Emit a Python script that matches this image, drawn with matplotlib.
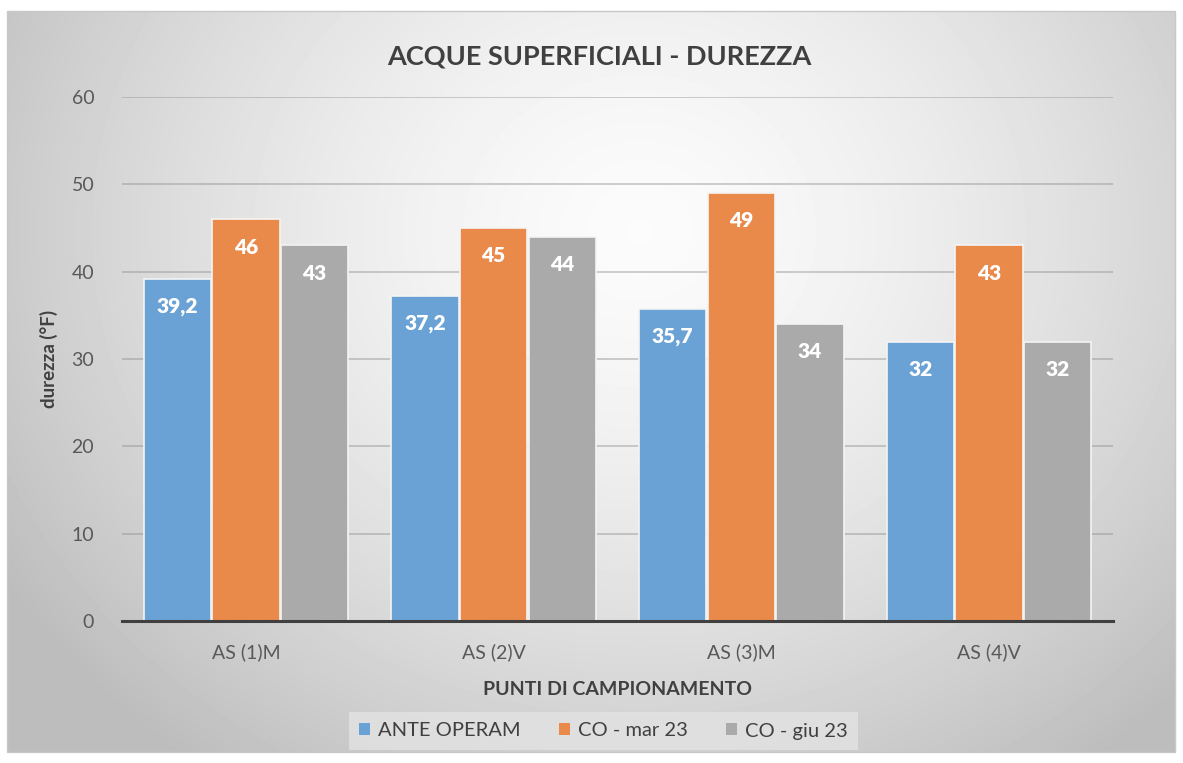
import numpy as np
import matplotlib
matplotlib.use("Agg")
import matplotlib.pyplot as plt
from matplotlib.patches import Patch, Rectangle

plt.rcParams['font.family'] = ['Lato', 'DejaVu Sans']

punti = ['AS (1)M', 'AS (2)V', 'AS (3)M', 'AS (4)V']
serie = ['ANTE OPERAM', 'CO - mar 23', 'CO - giu 23']
ante_operam = [39.2, 37.2, 35.7, 32]
co_mar23 = [46, 45, 49, 43]
co_giu23 = [43, 44, 34, 32]
colori = ['#6aa2d6', '#e9894a', '#aaaaaa']
yticks = [0, 10, 20, 30, 40, 50, 60]

W, H = 1183, 763
fig = plt.figure(figsize=(W / 100, H / 100), dpi=100)
fig.patch.set_facecolor('white')

# gradient background of the chart area
bg = fig.add_axes([0, 0, 1, 1], zorder=-5)
bg.set_xlim(0, W)
bg.set_ylim(H, 0)
bg.axis('off')
x0, x1, y0, y1 = 7, 1175, 11, 752
gx, gy = np.meshgrid(np.linspace(x0, x1, 300), np.linspace(y0, y1, 200))
r = np.sqrt(((gx - 640) / 700) ** 2 + ((gy - 230) / 620) ** 2)
shade = np.clip(0.985 - 0.22 * r ** 1.5, 0.74, 1)
bg.imshow(shade, cmap='gray', vmin=0, vmax=1, extent=[x0, x1, y1, y0],
          aspect='auto', interpolation='bilinear')
bg.add_patch(Rectangle((x0, y0), x1 - x0, y1 - y0, fill=False,
                       edgecolor='#c8c8c8', linewidth=1))

ax = fig.add_axes([122 / W, 1 - 621 / H, (1113 - 122) / W, (621 - 97) / H])
ax.patch.set_alpha(0)

x = np.arange(len(punti))
w = 0.272
valori = [ante_operam, co_mar23, co_giu23]
for i, (vals, col) in enumerate(zip(valori, colori)):
    pos = x + (i - 1) * (w + 0.005)
    bars = ax.bar(pos, vals, w, color=col, edgecolor='#f4f4f4', linewidth=1.2, zorder=3)
    for b, v in zip(bars, vals):
        txt = f'{v:g}'.replace('.', ',')
        ax.annotate(txt, (b.get_x() + b.get_width() / 2, v), xytext=(0, -20),
                    textcoords='offset points', ha='center', va='center',
                    color='white', fontsize=15, fontweight='heavy', zorder=4)

ax.set_xlim(-0.5, 3.5)
ax.set_ylim(0, 60)
ax.set_yticks(yticks)
ax.yaxis.grid(True, color='#8c8c8c', alpha=0.45, linewidth=1.3, zorder=0)
ax.set_axisbelow(True)
for s in ['top', 'right', 'left']:
    ax.spines[s].set_visible(False)
ax.spines['bottom'].set_color('#404040')
ax.spines['bottom'].set_linewidth(2.2)
ax.spines['bottom'].set_zorder(5)
ax.tick_params(axis='both', length=0, labelsize=14, labelcolor='#595959')
ax.tick_params(axis='y', pad=20)
ax.tick_params(axis='x', pad=16)
ax.set_xticks(x)
ax.set_xticklabels(punti)

ax.set_xlabel('PUNTI DI CAMPIONAMENTO', fontsize=14, fontweight='bold',
              color='#404040', labelpad=14)
ax.set_ylabel('durezza (°F)', fontsize=13.5, fontweight='bold', color='#404040',
              labelpad=10)
fig.text(0.507, 1 - 57 / H, 'ACQUE SUPERFICIALI - DUREZZA', ha='center', va='center',
         fontsize=19.5, fontweight='bold', color='#404040')

handles = [Patch(facecolor=c, edgecolor='none') for c in colori]
leg = fig.legend(handles, serie, loc='center', bbox_to_anchor=(0.51, 1 - 731 / H),
                 ncol=3, fontsize=14.5, frameon=True, fancybox=False,
                 handlelength=0.55, handleheight=0.55, handletextpad=0.4,
                 columnspacing=1.9, borderpad=0.5)
leg.get_frame().set_facecolor('#e3e3e3')
leg.get_frame().set_edgecolor('none')
for t in leg.get_texts():
    t.set_color('#404040')

fig.savefig('out.png', dpi=100)
